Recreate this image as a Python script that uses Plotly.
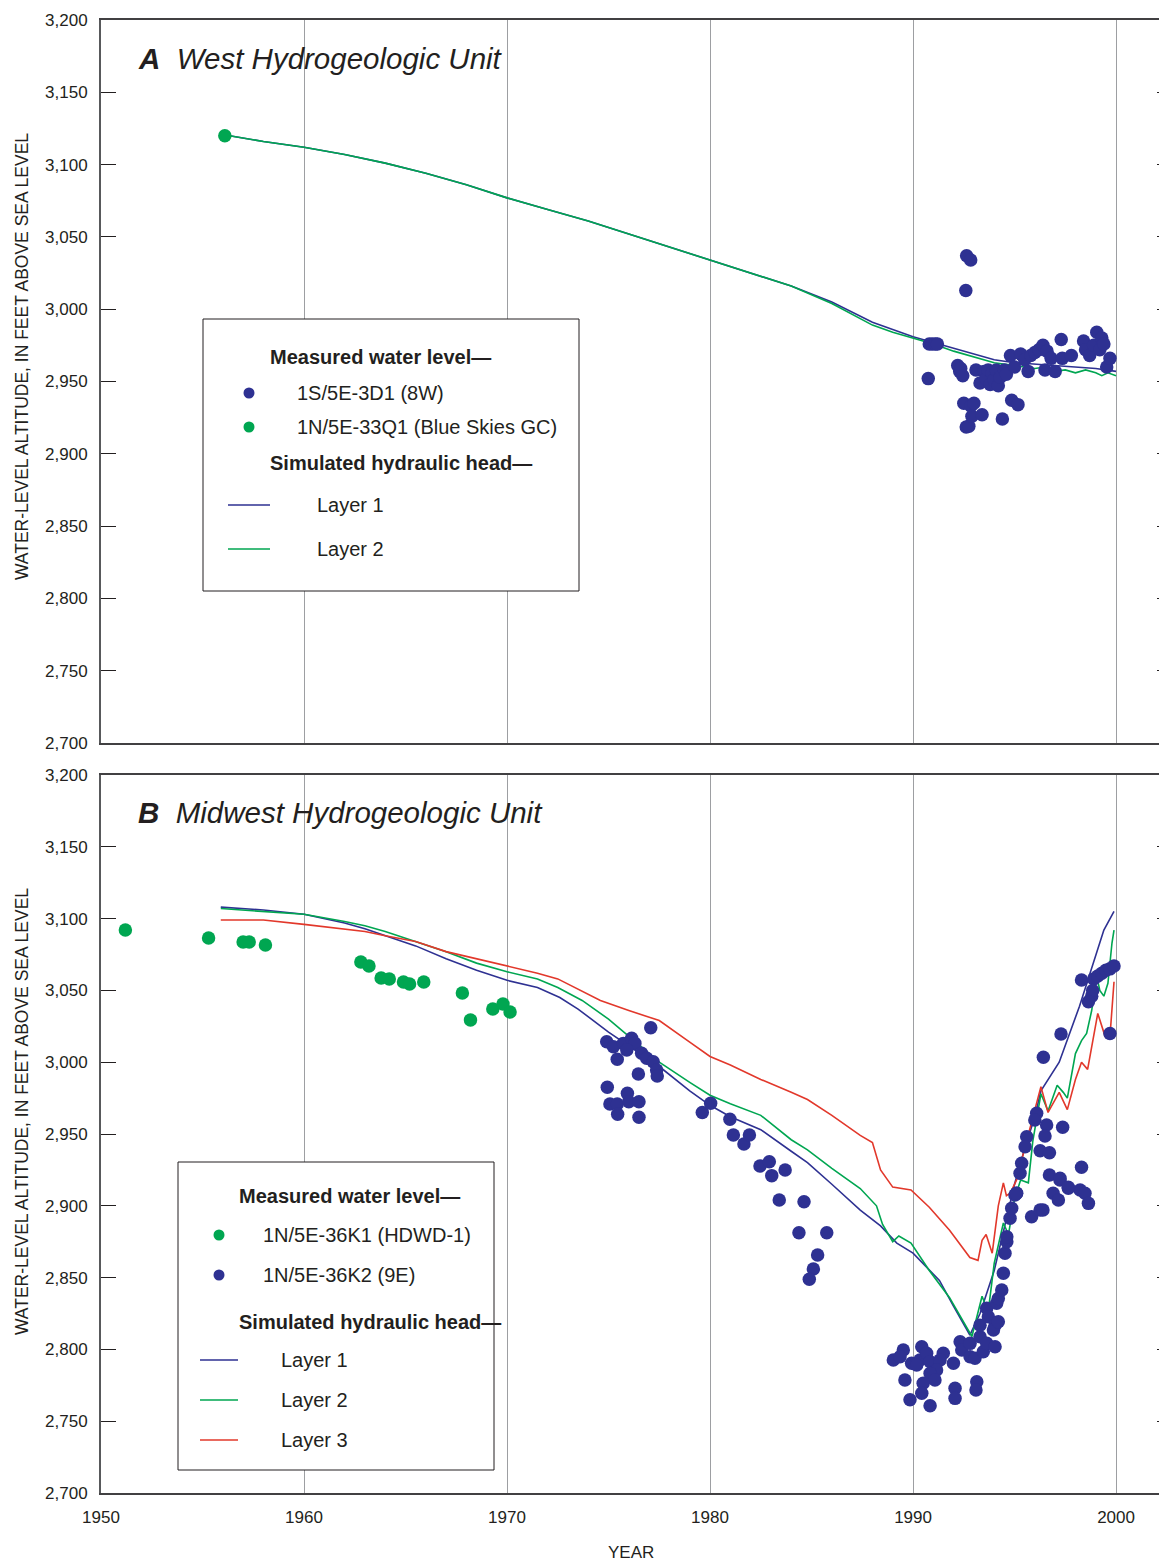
import plotly.graph_objects as go

FONT = "Liberation Sans, Arial, sans-serif"
BLUE = "#2e3192"
GREEN = "#00a651"
RED = "#e2382b"
INK = "#231f20"

# ---------------- Panel A: West Hydrogeologic Unit ----------------
a_l1_years = [1955.9, 1958, 1960, 1962, 1964, 1966, 1968, 1970, 1972, 1974, 1976, 1978,
              1980, 1982, 1984, 1986, 1988, 1989, 1990, 1991, 1992, 1993, 1994, 1995,
              1996, 1997, 1998, 1999, 2000]
a_l1_vals = [3121, 3116, 3112, 3107, 3101, 3094, 3086, 3077, 3069, 3061, 3052, 3043,
             3034, 3025, 3016, 3005, 2991, 2986, 2981, 2977, 2973, 2969, 2965, 2963,
             2962, 2961, 2960, 2959, 2957]
a_l2_years = [1955.9, 1958, 1960, 1962, 1964, 1966, 1968, 1970, 1972, 1974, 1976, 1978,
              1980, 1982, 1984, 1986, 1988, 1989, 1990, 1991, 1992, 1993, 1994, 1995,
              1995.5, 1996, 1996.5, 1997, 1997.5, 1998, 1998.5, 1999, 1999.3, 1999.6, 2000]
a_l2_vals = [3121, 3116, 3112, 3107, 3101, 3094, 3086, 3077, 3069, 3061, 3052, 3043,
             3034, 3025, 3016, 3004, 2989, 2984, 2980, 2976, 2971, 2967, 2963, 2961,
             2960, 2959, 2960, 2957, 2958, 2956, 2958, 2956, 2954, 2956, 2954]

a_8w_years = [1990.75, 1990.8, 1990.95, 1991.1, 1991.2, 1992.2, 1992.3, 1992.35, 1992.45,
              1992.5, 1992.6, 1992.64, 1992.62, 1992.75, 1992.84, 1992.85, 1992.9, 1993.0,
              1993.1, 1993.3, 1993.4, 1993.5, 1993.6, 1993.7, 1993.8, 1993.9, 1994.0,
              1994.1, 1994.2, 1994.3, 1994.4, 1994.5, 1994.6, 1994.8, 1994.86, 1995.0,
              1995.17, 1995.3, 1995.5, 1995.67, 1995.8, 1996.0, 1996.2, 1996.4, 1996.5,
              1996.6, 1996.8, 1997.0, 1997.3, 1997.35, 1997.8, 1998.4, 1998.5, 1998.7,
              1998.9, 1999.05, 1999.2, 1999.3, 1999.4, 1999.54, 1999.7]
a_8w_vals = [2952, 2976, 2976, 2976, 2976, 2961, 2957, 2959, 2954,
             2935, 3013, 3037, 2918.5, 2919, 3034, 2933, 2926, 2935,
             2958, 2949, 2927, 2957, 2952, 2958, 2948, 2956, 2951,
             2958, 2947, 2953, 2924, 2958, 2955, 2968, 2937, 2960,
             2934, 2969, 2965, 2957, 2968, 2970, 2972, 2975, 2958,
             2971, 2966, 2957, 2979, 2966, 2968, 2978, 2972, 2968,
             2975, 2984, 2972, 2980, 2976, 2960, 2966]

a_bsgc_years = [1956.1]
a_bsgc_vals = [3120]

# ---------------- Panel B: Midwest Hydrogeologic Unit ----------------
b_l1_years = [1955.9, 1958, 1960, 1962, 1963, 1964, 1965.5, 1967, 1968.5, 1970, 1971.5,
              1972.6, 1973.5, 1975, 1977.5, 1979, 1980, 1981, 1982.5, 1984, 1984.8, 1986,
              1987.4, 1988.4, 1989.2, 1990, 1991.3, 1992, 1992.8, 1993.3, 1994, 1994.5,
              1995, 1995.5, 1996, 1996.3, 1997.2, 1998.2, 1998.9, 1999.4, 1999.9]
b_l1_vals = [3108, 3106, 3103, 3097, 3093, 3088, 3081, 3072, 3064, 3057, 3052,
             3045, 3037, 3021, 2997, 2980, 2970, 2962, 2953, 2938, 2930, 2915,
             2897, 2886, 2874, 2867, 2848, 2830, 2810, 2825, 2855, 2885,
             2915, 2940, 2962, 2980, 3000, 3039, 3069, 3092, 3105]
b_l2_years = [1955.9, 1958, 1960, 1962, 1963, 1964, 1965.5, 1967, 1968.5, 1970, 1971.5,
              1972.5, 1973.7, 1975, 1976.5, 1977.5, 1979, 1980, 1981, 1982.5, 1984, 1984.8,
              1986, 1987.4, 1988.2, 1988.5, 1989.0, 1989.3, 1989.9, 1990.8, 1991.8, 1992.9,
              1993.4, 1993.7, 1994.0, 1994.45, 1994.7, 1995.0, 1995.3, 1995.68, 1995.9,
              1996.3, 1996.65, 1997.1, 1997.4, 1997.6, 1998.0, 1998.3, 1998.55, 1998.8,
              1999.05, 1999.2, 1999.4, 1999.6, 1999.8, 1999.9]
b_l2_vals = [3107, 3105, 3103, 3098, 3095, 3091, 3084, 3077, 3069, 3063, 3058,
             3052, 3043, 3030, 3012, 3000, 2986, 2977, 2971, 2963, 2946, 2939,
             2926, 2912, 2900, 2887, 2875, 2879, 2874, 2855, 2836, 2809,
             2837, 2826, 2860, 2888, 2880, 2905, 2918, 2916, 2945,
             2978, 2966, 2984, 2979, 2975, 3006, 3015, 3020, 3036,
             3060, 3050, 3046, 3055, 3083, 3092]
b_l3_years = [1955.9, 1958, 1960, 1962, 1963, 1964, 1965.5, 1967, 1968.5, 1970, 1971.5,
              1972.5, 1974.6, 1976, 1977.5, 1979, 1980, 1981, 1982.5, 1984, 1984.8, 1986,
              1987.4, 1988.0, 1988.4, 1989.0, 1989.9, 1990.8, 1991.8, 1992.8, 1993.2,
              1993.4, 1993.6, 1993.9, 1994.2, 1994.45, 1994.6, 1994.8, 1995.1, 1995.5,
              1996.0, 1996.3, 1996.65, 1997.2, 1997.6, 1998.0, 1998.3, 1998.6, 1999.1,
              1999.46, 1999.7, 1999.9]
b_l3_vals = [3099, 3099, 3096, 3093, 3091, 3088, 3084, 3077, 3072, 3067, 3062,
             3058, 3043, 3036, 3029, 3014, 3004, 2998, 2988, 2979, 2974, 2963,
             2949, 2944, 2925, 2913, 2911, 2899, 2883, 2864, 2862,
             2876, 2880, 2867, 2900, 2916, 2907, 2909, 2918, 2940,
             2968, 2983, 2965, 2979, 2967, 2988, 3000, 2995, 3034,
             3018, 3018, 3056]

b_hdwd_years = [1951.2, 1955.3, 1957.0, 1957.3, 1958.1, 1962.8, 1963.2, 1963.8, 1964.2,
                1964.9, 1965.2, 1965.9, 1967.8, 1968.2, 1969.3, 1969.8, 1970.15]
b_hdwd_vals = [3092, 3086.5, 3083.7, 3083.7, 3081.6, 3069.8, 3067, 3058.6, 3057.9,
               3055.8, 3054.4, 3055.8, 3048.2, 3029.4, 3037, 3040.5, 3035]

b_9e_years = [1977.08, 1974.91, 1975.24, 1975.73, 1976.14, 1976.3, 1975.9, 1975.43, 1976.63,
              1976.88, 1977.2, 1977.37, 1977.4, 1976.47, 1974.94, 1975.07, 1975.43, 1975.93,
              1976.0, 1976.5, 1975.45, 1976.5, 1979.62, 1980.03, 1980.98, 1981.15, 1981.67,
              1981.94, 1982.46, 1982.92, 1983.04, 1983.7, 1983.41, 1984.63, 1984.38, 1985.75,
              1985.3, 1985.09, 1984.89,
              1989.03, 1989.52, 1989.36, 1989.93, 1990.43, 1990.34, 1990.67, 1990.84, 1990.18,
              1991.49, 1991.33, 1991.16, 1990.84, 1991.08, 1990.5, 1990.43, 1989.6, 1989.85,
              1990.84, 1992.07, 1992.07, 1991.99, 1992.32, 1992.4, 1992.81, 1992.81, 1993.05,
              1993.14, 1993.1, 1993.3, 1993.46, 1993.63, 1994.04, 1993.3, 1993.63, 1993.71,
              1994.04, 1993.96, 1994.2, 1994.12, 1994.2, 1994.37, 1994.45, 1994.53, 1994.62,
              1994.62, 1994.78, 1994.86, 1995.02, 1995.1, 1995.84, 1996.26, 1996.4, 1996.9,
              1997.16, 1997.24, 1997.65, 1998.23, 1998.47, 1998.64,
              1998.3, 1998.9, 1999.1, 1999.3, 1999.5, 1999.7, 1999.9, 1998.8, 1998.85,
              1998.64, 1999.7, 1997.29, 1996.42, 1996.09, 1996.0, 1996.58, 1996.5, 1997.37,
              1995.6, 1995.52, 1996.26, 1996.72, 1995.35, 1995.27, 1998.3, 1996.72, 1997.24,
              1997.65, 1995.1]
b_9e_vals = [3024, 3014.3, 3010.8, 3013.1, 3016.6, 3013.1, 3008.5, 3002, 3006.2,
             3002.7, 3000.3, 2994.6, 2990.4, 2991.8, 2982.5, 2970.9, 2970.9, 2978.3,
             2972.5, 2972.5, 2963.7, 2961.6, 2964.9, 2971.4, 2960.2, 2949.3, 2943,
             2949.3, 2927.7, 2930.7, 2921, 2924.9, 2904, 2902.8, 2881.2, 2881.2,
             2865.7, 2856, 2848.8,
             2792.6, 2799.6, 2794.9, 2790.3, 2801.8, 2792.6, 2797.3, 2791.4, 2789.1,
             2797.3, 2792.6, 2785.6, 2783.3, 2778.7, 2776.4, 2769.4, 2778.7, 2764.9,
             2760.7, 2772.9, 2765.9, 2790.3, 2805.4, 2799.6, 2804.2, 2794.9, 2793.8,
             2777.5, 2771.7, 2808.8, 2798.4, 2804.2, 2801.8, 2816.9, 2828.6, 2822.7,
             2816.9, 2813.5, 2819.3, 2832.2, 2835.5, 2841.4, 2853, 2866.9, 2875,
             2878.5, 2891.3, 2898.3, 2907.5, 2908.7, 2892.4, 2897.1, 2897.1, 2908.7,
             2904, 2918, 2912.2, 2911, 2908.7, 2901.7,
             3057.2, 3058, 3060, 3062, 3064, 3065, 3067, 3046, 3050,
             3042.1, 3020, 3019.6, 3003.4, 2964.4, 2959.7, 2956.3, 2948.6, 2954.7,
             2948.1, 2941.1, 2938.4, 2937, 2929.6, 2922.6, 2926.8, 2921.4, 2919.1,
             2912.9, 2908.7]

y_ticks = list(range(2700, 3201, 50))
x_ticks = [1950, 1960, 1970, 1980, 1990, 2000]

legend_a_meas = [("1S/5E-3D1 (8W)", BLUE), ("1N/5E-33Q1 (Blue Skies GC)", GREEN)]
legend_a_sim = [("Layer 1", BLUE), ("Layer 2", GREEN)]
legend_b_meas = [("1N/5E-36K1 (HDWD-1)", GREEN), ("1N/5E-36K2 (9E)", BLUE)]
legend_b_sim = [("Layer 1", BLUE), ("Layer 2", GREEN), ("Layer 3", RED)]

fig = go.Figure()

def line(x, y, color, xa, ya):
    fig.add_trace(go.Scatter(x=x, y=y, mode="lines", line=dict(color=color, width=1.6),
                             xaxis=xa, yaxis=ya, showlegend=False, hoverinfo="skip"))

def dots(x, y, color, xa, ya):
    fig.add_trace(go.Scatter(x=x, y=y, mode="markers", marker=dict(color=color, size=13.5),
                             xaxis=xa, yaxis=ya, showlegend=False, hoverinfo="skip"))

line(a_l1_years, a_l1_vals, BLUE, "x", "y")
line(a_l2_years, a_l2_vals, GREEN, "x", "y")
dots(a_8w_years, a_8w_vals, BLUE, "x", "y")
dots(a_bsgc_years, a_bsgc_vals, GREEN, "x", "y")

line(b_l1_years, b_l1_vals, BLUE, "x2", "y2")
line(b_l2_years, b_l2_vals, GREEN, "x2", "y2")
line(b_l3_years, b_l3_vals, RED, "x2", "y2")
dots(b_hdwd_years, b_hdwd_vals, GREEN, "x2", "y2")
dots(b_9e_years, b_9e_vals, BLUE, "x2", "y2")

fig.add_trace(go.Scatter(x=[], y=[], xaxis="x", yaxis="y3", showlegend=False))
fig.add_trace(go.Scatter(x=[], y=[], xaxis="x2", yaxis="y4", showlegend=False))

# page geometry (the HTML body adds an 8px offset)
OFF = 8
PL, PT, PR, PB = 101, 20, 1167, 1493
W, H = 1167 - OFF, 1564 - OFF

def px(xp):
    return (xp - PL) / (PR - PL)

def py(yp):
    return (PB - yp) / (PB - PT)

XR = [1950, 2002.51]
tickfont = dict(family=FONT, size=17, color=INK)

def xaxis(anchor, labels):
    return dict(domain=[0, 1], anchor=anchor, range=XR, tickvals=x_ticks,
                showticklabels=labels, tickfont=tickfont, ticks="",
                showgrid=True, gridcolor="#9d9fa2", gridwidth=1.2,
                showline=True, mirror=True, linecolor="#414042", linewidth=1.8,
                zeroline=False, ticklabelstandoff=8)

def yaxis(anchor, dom):
    return dict(domain=dom, anchor=anchor, range=[2700, 3200], tickvals=y_ticks,
                tickformat=",d", tickfont=tickfont, ticks="inside", ticklen=15,
                tickcolor=INK, tickwidth=1.2, showgrid=False,
                showline=True, linecolor="#58595b", linewidth=2, zeroline=False,
                ticklabelstandoff=8)

def rightaxis(over, anchor):
    return dict(overlaying=over, anchor=anchor, side="right", range=[2700, 3200],
                tickvals=y_ticks, showticklabels=False, ticks="inside", ticklen=10,
                tickcolor=INK, tickwidth=1.2, showgrid=False, showline=False,
                zeroline=False)

domA = [py(743), 1.0]
domB = [0.0, py(775)]

annots = []
shapes = []

def text(t, xp, yp, size, anchor="left", **kw):
    annots.append(dict(text=t, xref="paper", yref="paper", x=px(xp), y=py(yp),
                       xanchor=anchor, yanchor="middle", showarrow=False,
                       font=dict(family=FONT, size=size, color=INK), **kw))

ytitle = "WATER-LEVEL ALTITUDE, IN FEET ABOVE SEA LEVEL"
text(ytitle, 22, 357, 17.5, anchor="center", textangle=-90)
text(ytitle, 22, 1112, 17.5, anchor="center", textangle=-90)
text("<b><i>A</i></b>  <i>West Hydrogeologic Unit</i>", 136, 58, 29.5)
text("<b><i>B</i></b>  <i>Midwest Hydrogeologic Unit</i>", 136, 812, 29.5)
text("YEAR", 631, 1552, 17, anchor="center")

def legend_box(x0, y0, x1, y1, title_x, meas, meas_ys, mark_x, mtext_x,
               sim, title2_y, sim_ys, lx0, lx1, ltext_x, title1_y):
    shapes.append(dict(type="rect", xref="paper", yref="paper", x0=px(x0), x1=px(x1),
                       y0=py(y1), y1=py(y0), line=dict(color=INK, width=1),
                       fillcolor="white", layer="above"))
    text("<b>Measured water level\u2014</b>", title_x, title1_y, 20)
    for (name, color), yy in zip(meas, meas_ys):
        shapes.append(dict(type="circle", xref="paper", yref="paper",
                           xsizemode="pixel", ysizemode="pixel",
                           xanchor=px(mark_x), yanchor=py(yy), x0=-5.5, x1=5.5, y0=-5.5, y1=5.5,
                           fillcolor=color, line=dict(color=color, width=0), layer="above"))
        text(name, mtext_x, yy, 20)
    text("<b>Simulated hydraulic head\u2014</b>", title_x, title2_y, 20)
    for (name, color), yy in zip(sim, sim_ys):
        shapes.append(dict(type="line", xref="paper", yref="paper", x0=px(lx0), x1=px(lx1),
                           y0=py(yy), y1=py(yy), line=dict(color=color, width=1.6),
                           layer="above"))
        text(name, ltext_x, yy, 20)

legend_box(203, 319, 579, 591, 268, legend_a_meas, [393, 427], 249, 295,
           legend_a_sim, 463, [505, 549], 228, 270, 315, 357)
legend_box(178, 1162, 494, 1470, 237, legend_b_meas, [1235, 1275], 219, 261,
           legend_b_sim, 1322, [1360, 1400, 1440], 200, 238, 279, 1196)

fig.update_layout(
    width=W, height=H,
    margin=dict(l=PL - OFF, r=0, t=PT - OFF, b=H + OFF - PB),
    paper_bgcolor="white", plot_bgcolor="white",
    font=dict(family=FONT, color=INK),
    xaxis=xaxis("y", False), yaxis=yaxis("x", domA),
    xaxis2=xaxis("y2", True), yaxis2=yaxis("x2", domB),
    yaxis3=rightaxis("y", "x"), yaxis4=rightaxis("y2", "x2"),
    annotations=annots, shapes=shapes,
    showlegend=False,
)

fig.write_html("out.html")
